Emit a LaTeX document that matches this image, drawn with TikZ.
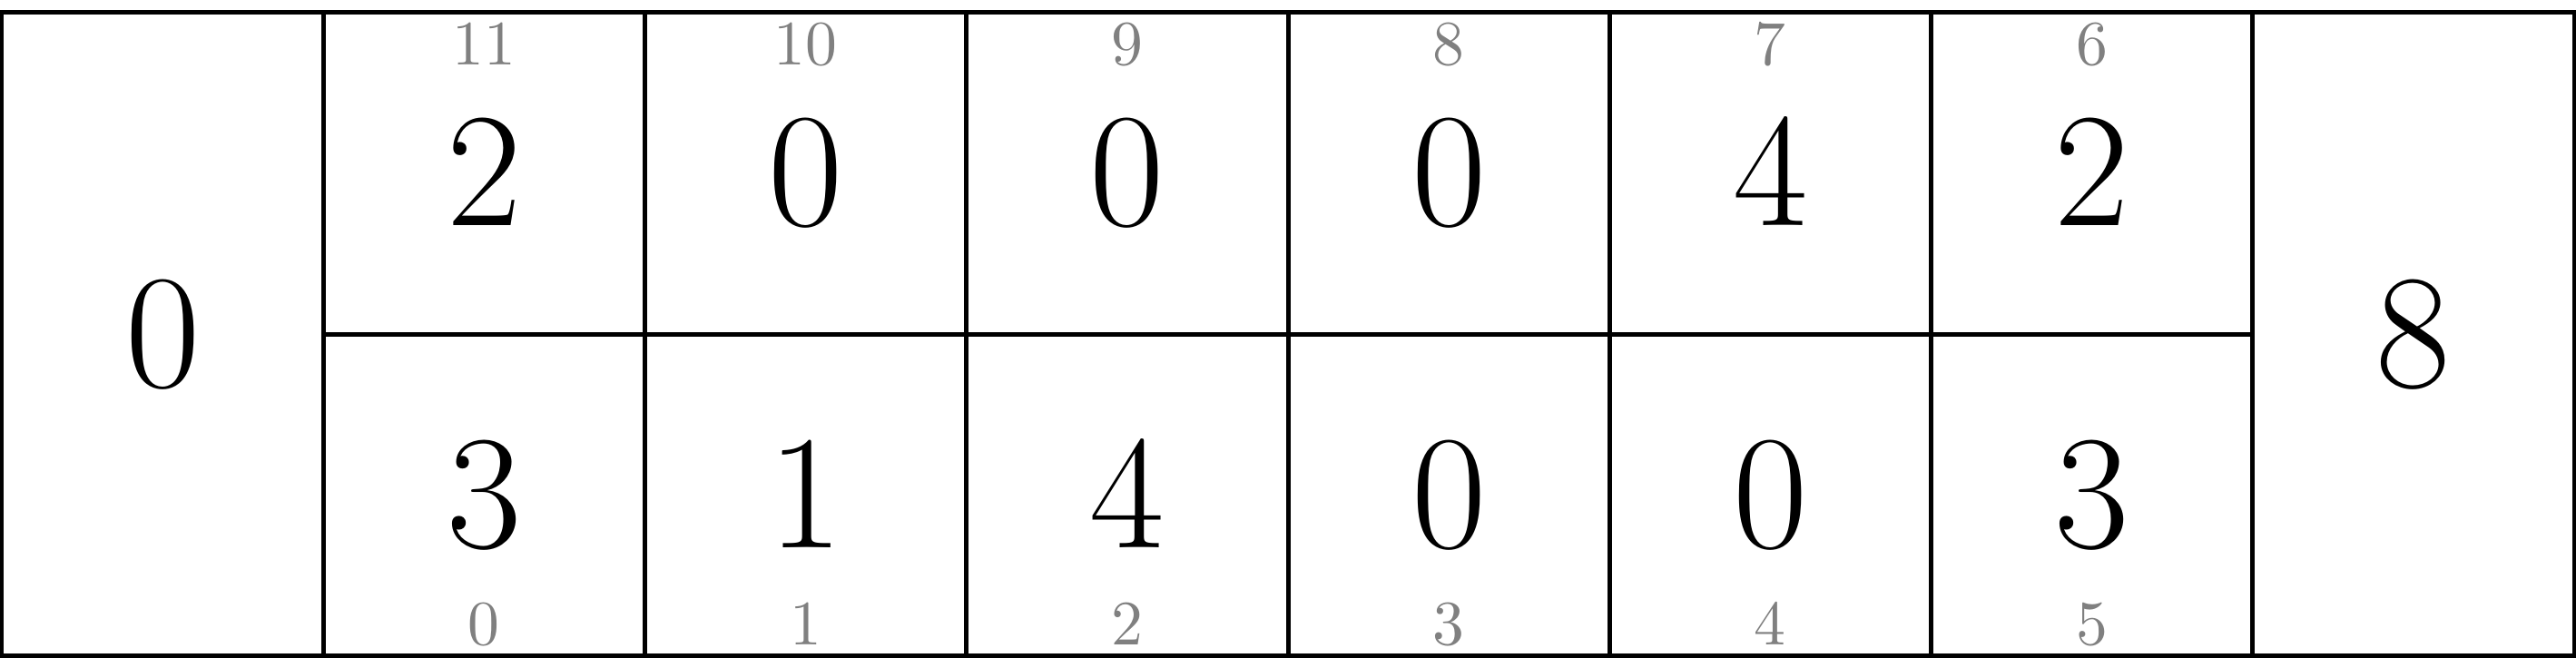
\documentclass[tikz,border=0pt]{standalone}
\usepackage{tikz}
\usetikzlibrary{positioning}

\font\pitFont=cmr17 at 14.4pt
\font\idxFont=cmr10 at 5.6pt

\begin{document}
\begin{tikzpicture}[
		font=\pitFont,
		baseCell/.style={rectangle, draw=black, inner sep=0pt, outer sep=0pt},
		pitBox/.style={baseCell, minimum width=1cm, minimum height=1cm},
		storeBox/.style={baseCell, minimum width=1cm, minimum height=2cm},
		idxLabel/.style={inner sep=0pt, outer sep=0pt, text=gray, font=\idxFont}
		]
		\useasboundingbox (-0.0056,-0.038) rectangle (8.0056,2.0395);

		% Almacenes
		\node[storeBox] (store0) at (0.5,1) {0};

		% Fila superior
		\node[pitBox, anchor=north west] (pit11) at (store0.north east) {2};
		\node[pitBox, right=0pt of pit11] (pit10) {0};
		\node[pitBox, right=0pt of pit10] (pit9) {0};
		\node[pitBox, right=0pt of pit9] (pit8) {0};
		\node[pitBox, right=0pt of pit8] (pit7) {4};
		\node[pitBox, right=0pt of pit7] (pit6) {2};

		% Fila inferior
		\node[pitBox, below=0pt of pit11] (pit0) {3};
		\node[pitBox, right=0pt of pit0] (pit1) {1};
		\node[pitBox, right=0pt of pit1] (pit2) {4};
		\node[pitBox, right=0pt of pit2] (pit3) {0};
		\node[pitBox, right=0pt of pit3] (pit4) {0};
		\node[pitBox, right=0pt of pit4] (pit5) {3};

		\node[storeBox, right=0pt of pit6.south east] (store1) {8};

		% Indices
		\node[idxLabel, below=0.035cm of pit11.north] (idx11) {11};
		\node[idxLabel, below=0.035cm of pit10.north] (idx10) {10};
		\node[idxLabel, below=0.035cm of pit9.north] (idx9) {9};
		\node[idxLabel, below=0.035cm of pit8.north] (idx8) {8};
		\node[idxLabel, below=0.035cm of pit7.north] (idx7) {7};
		\node[idxLabel, below=0.035cm of pit6.north] (idx6) {6};
		\node[idxLabel, above=0.035cm of pit0.south] (idx0) {0};
		\node[idxLabel, above=0.035cm of pit1.south] (idx1) {1};
		\node[idxLabel, above=0.035cm of pit2.south] (idx2) {2};
		\node[idxLabel, above=0.035cm of pit3.south] (idx3) {3};
		\node[idxLabel, above=0.035cm of pit4.south] (idx4) {4};
		\node[idxLabel, above=0.035cm of pit5.south] (idx5) {5};

	\end{tikzpicture}
\end{document}
